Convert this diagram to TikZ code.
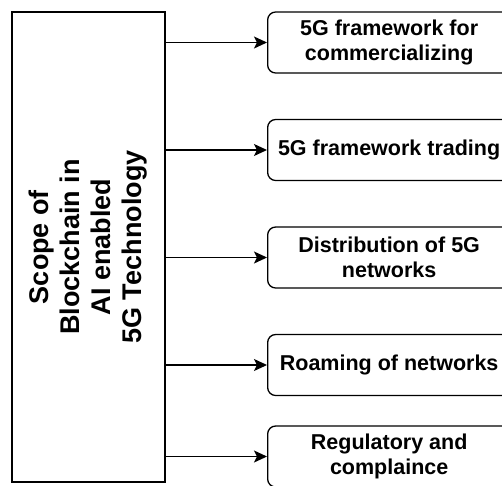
\documentclass[tikz,border=0pt]{standalone}
\usepackage{fontspec}
\setmainfont{Liberation Sans}
\usetikzlibrary{arrows.meta}
\begin{document}
\begin{tikzpicture}[x=1pt,y=-1pt,
  mainbox/.style={draw, line width=1.3pt, rotate=90, minimum width=470pt, minimum height=153pt, align=center, font=\bfseries\fontsize{27}{31}\selectfont, inner sep=0pt},
  itembox/.style={draw, line width=1.3pt, rounded corners=8pt, minimum width=243pt, minimum height=61pt, anchor=west, align=center, font=\bfseries\fontsize{21.5}{25.5}\selectfont, inner sep=0pt},
  arr/.style={line width=1.3pt, -{Stealth[length=13pt,width=12pt,inset=3pt]}}]
\useasboundingbox (0,0) rectangle (502,485);
\clip (0,0) rectangle (502,485);
\node[mainbox] (main) at (88.5,247) {Scope of\\Blockchain in\\AI enabled\\5G Technology};
\node[itembox] (b1) at (267,42.5) {5G framework for\\commercializing};
\node[itembox] (b2) at (267,150) {5G framework trading};
\node[itembox] (b3) at (267,257.5) {Distribution of 5G\\networks};
\node[itembox] (b4) at (267,365) {Roaming of networks};
\node[itembox] (b5) at (267,456.5) {Regulatory and\\complaince};
\foreach \b in {b1,b2,b3,b4,b5}
  \draw[arr] (\b.west -| main.south) -- (\b.west);
\end{tikzpicture}
\end{document}
